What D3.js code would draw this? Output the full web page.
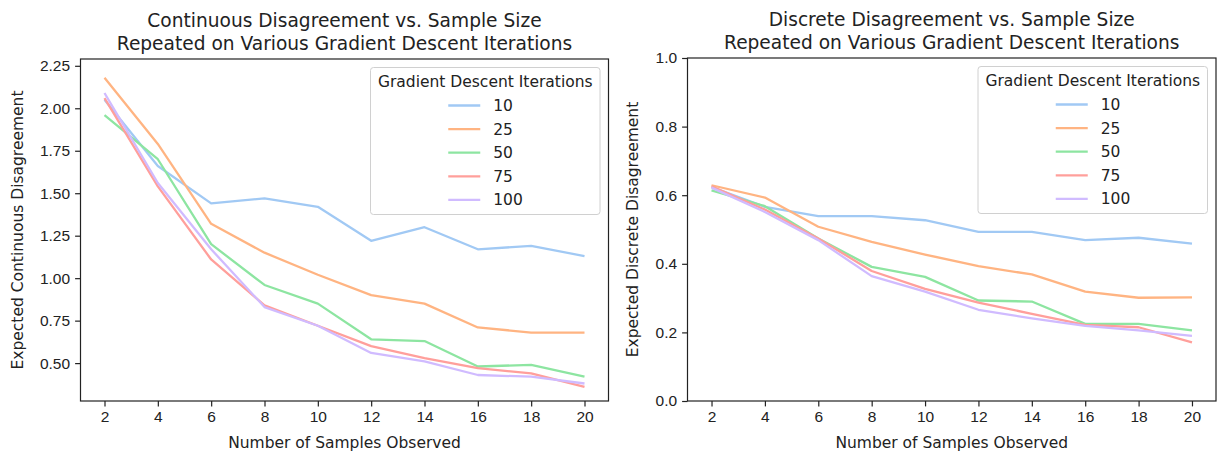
<!DOCTYPE html>
<html>
<head>
<meta charset="utf-8">
<script src="https://cdn.jsdelivr.net/npm/d3@7"></script>
<style>
    body { margin: 0; background: #fff; }
    svg { display: block; font-family: "DejaVu Sans", sans-serif; }
    .axis path, .axis line { stroke: #222; stroke-width: 1.2px; }
    .axis text { fill: #222; font-size: 15.5px; }
    .series { fill: none; stroke-width: 2.3px; stroke-linejoin: round; }
</style>
</head>
<body>
<div id="chart"></div>
<script>
//------------------------1. DATA-------------------------------//
const sampleSizes = [2, 4, 6, 8, 10, 12, 14, 16, 18, 20];
const iterations = ["10", "25", "50", "75", "100"];
const colors = ["#a1c9f4", "#ffb482", "#8de5a1", "#ff9f9b", "#d0bbff"];

// continuous disagreement, one array per iteration count
const cont10  = [2.05, 1.66, 1.44, 1.47, 1.42, 1.22, 1.30, 1.17, 1.19, 1.13];
const cont25  = [2.18, 1.79, 1.32, 1.15, 1.02, 0.90, 0.85, 0.71, 0.68, 0.68];
const cont50  = [1.96, 1.70, 1.20, 0.96, 0.85, 0.64, 0.63, 0.48, 0.49, 0.42];
const cont75  = [2.06, 1.54, 1.11, 0.84, 0.72, 0.60, 0.53, 0.47, 0.44, 0.36];
const cont100 = [2.09, 1.56, 1.17, 0.83, 0.72, 0.56, 0.51, 0.43, 0.42, 0.38];

// discrete disagreement
const disc10  = [0.624, 0.566, 0.539, 0.539, 0.527, 0.493, 0.493, 0.469, 0.476, 0.459];
const disc25  = [0.629, 0.593, 0.508, 0.464, 0.427, 0.393, 0.369, 0.319, 0.301, 0.302];
const disc50  = [0.614, 0.568, 0.474, 0.391, 0.362, 0.293, 0.290, 0.225, 0.225, 0.206];
const disc75  = [0.626, 0.558, 0.474, 0.379, 0.327, 0.287, 0.254, 0.222, 0.215, 0.171];
const disc100 = [0.622, 0.551, 0.469, 0.364, 0.319, 0.266, 0.241, 0.219, 0.206, 0.190];

const xTicks = [2, 4, 6, 8, 10, 12, 14, 16, 18, 20];
const contTicks = [0.50, 0.75, 1.00, 1.25, 1.50, 1.75, 2.00, 2.25];
const discTicks = [0.0, 0.2, 0.4, 0.6, 0.8, 1.0];

//-----------------------------SVG------------------------------//
const width = 1219;
const height = 455;
const svg = d3.select("#chart").append("svg")
    .attr("width", width)
    .attr("height", height);

const panels = [
    {
        left: 80.5, right: 608.5, top: 59, bottom: 401,
        title: ["Continuous Disagreement vs. Sample Size",
                "Repeated on Various Gradient Descent Iterations"],
        ylabel: "Expected Continuous Disagreement",
        ylabelX: 18,
        values: [cont10, cont25, cont50, cont75, cont100],
        ticks: contTicks, fmt: d3.format(".2f"), domain: [0.277, 2.29]
    },
    {
        left: 687.5, right: 1216, top: 58, bottom: 401,
        title: ["Discrete Disagreement vs. Sample Size",
                "Repeated on Various Gradient Descent Iterations"],
        ylabel: "Expected Discrete Disagreement",
        ylabelX: 633,
        values: [disc10, disc25, disc50, disc75, disc100],
        ticks: discTicks, fmt: d3.format(".1f"), domain: [0, 1]
    }
];

//-------------------------2. DRAWING---------------------------//
panels.forEach(function(p) {
    const slices = iterations.map(function(id, i) {
        return {
            id: id,
            color: colors[i],
            values: sampleSizes.map(function(s, j) {
                return { size: s, measurement: p.values[i][j] };
            })
        };
    });

    // matplotlib-like 5% margin on x
    const xExt = d3.extent(sampleSizes);
    const xPad = (xExt[1] - xExt[0]) * 0.05;
    const xScale = d3.scaleLinear()
        .domain([xExt[0] - xPad, xExt[1] + xPad])
        .range([p.left, p.right]);

    const yScale = d3.scaleLinear()
        .domain(p.domain)
        .range([p.bottom, p.top]);

//-----------------------------AXES-----------------------------//
    const xaxis = d3.axisBottom(xScale)
        .tickValues(xTicks)
        .tickFormat(d3.format("d"))
        .tickSizeOuter(0)
        .tickSize(5.4)
        .tickPadding(5);

    const yaxis = d3.axisLeft(yScale)
        .tickValues(p.ticks)
        .tickFormat(p.fmt)
        .tickSizeOuter(0)
        .tickSize(5.4)
        .tickPadding(5);

    svg.append("g")
        .attr("class", "axis")
        .attr("transform", "translate(0," + p.bottom + ")")
        .call(xaxis)
        .select(".domain").remove();

    svg.append("g")
        .attr("class", "axis")
        .attr("transform", "translate(" + p.left + ",0)")
        .call(yaxis)
        .select(".domain").remove();

    // frame
    svg.append("rect")
        .attr("x", p.left)
        .attr("y", p.top)
        .attr("width", p.right - p.left)
        .attr("height", p.bottom - p.top)
        .attr("fill", "none")
        .attr("stroke", "#222")
        .attr("stroke-width", 1.2);

//----------------------------LINES-----------------------------//
    const line = d3.line()
        .x(function(d) { return xScale(d.size); })
        .y(function(d) { return yScale(d.measurement); });

    svg.append("g").selectAll("path")
        .data(slices)
        .enter()
        .append("path")
        .attr("class", "series")
        .attr("stroke", function(d) { return d.color; })
        .attr("d", function(d) { return line(d.values); });

//----------------------------TEXTS-----------------------------//
    const cx = (p.left + p.right) / 2;
    svg.append("text")
        .attr("x", cx)
        .attr("y", p.top - 32)
        .attr("text-anchor", "middle")
        .attr("font-size", 18.6)
        .attr("fill", "#222")
        .text(p.title[0]);
    svg.append("text")
        .attr("x", cx)
        .attr("y", p.top - 9.5)
        .attr("text-anchor", "middle")
        .attr("font-size", 18.6)
        .attr("fill", "#222")
        .text(p.title[1]);

    svg.append("text")
        .attr("x", cx)
        .attr("y", p.bottom + 47)
        .attr("text-anchor", "middle")
        .attr("font-size", 15.5)
        .attr("fill", "#222")
        .text("Number of Samples Observed");

    svg.append("text")
        .attr("transform", "translate(" + p.ylabelX + "," + ((p.top + p.bottom) / 2) + ") rotate(-90)")
        .attr("dy", "0.35em")
        .attr("text-anchor", "middle")
        .attr("font-size", 15.5)
        .attr("fill", "#222")
        .text(p.ylabel);

//----------------------------LEGEND----------------------------//
    const lw = 229.5, lh = 147;
    const lx = p.right - 8.5 - lw;
    const ly = p.top + 8.5;
    const lcx = lx + lw / 2;
    const legend = svg.append("g");

    legend.append("rect")
        .attr("x", lx)
        .attr("y", ly)
        .attr("width", lw)
        .attr("height", lh)
        .attr("rx", 3)
        .attr("fill", "#fff")
        .attr("fill-opacity", 0.8)
        .attr("stroke", "#d0d0d0")
        .attr("stroke-width", 1);

    legend.append("text")
        .attr("x", lcx)
        .attr("y", ly + 19.5)
        .attr("text-anchor", "middle")
        .attr("font-size", 15.5)
        .attr("fill", "#222")
        .text("Gradient Descent Iterations");

    const items = legend.selectAll("g.item")
        .data(slices)
        .enter()
        .append("g")
        .attr("class", "item")
        .attr("transform", function(d, i) {
            return "translate(0," + (ly + 38 + i * 23.6) + ")"; });

    items.append("line")
        .attr("x1", lcx - 37)
        .attr("x2", lcx - 5)
        .attr("stroke", function(d) { return d.color; })
        .attr("stroke-width", 2.3);

    items.append("text")
        .attr("x", lcx + 8)
        .attr("dy", "0.35em")
        .attr("font-size", 15.5)
        .attr("fill", "#222")
        .text(function(d) { return d.id; });
});
</script>
</body>
</html>
